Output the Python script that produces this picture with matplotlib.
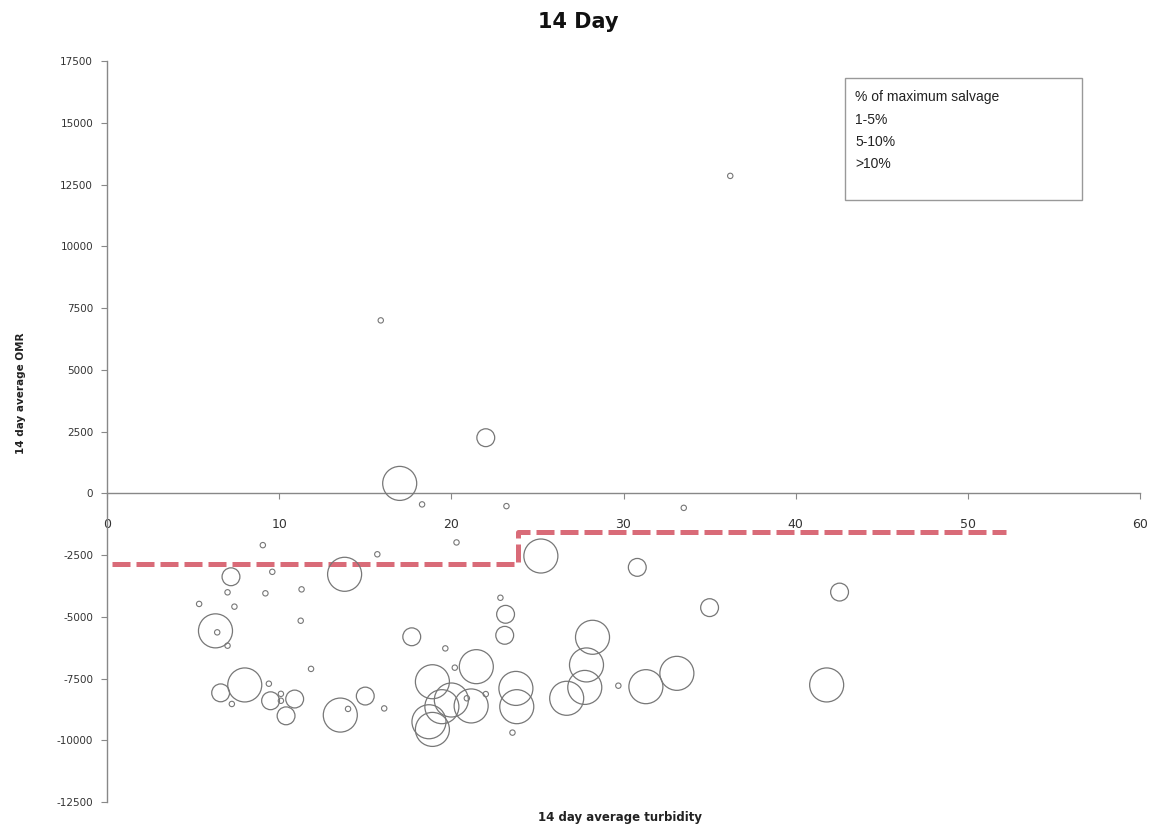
import numpy as np
from matplotlib import pyplot as plt
from matplotlib.patches import Rectangle

plt.rcParams['axes.unicode_minus'] = False

# bubbles by % of maximum salvage: x = 14 day average turbidity, y = 14 day average OMR
x_low = [9.05, 15.7, 9.6, 7.0, 9.2, 11.3, 5.35, 7.4, 11.25, 6.4, 7.0, 11.85, 9.4, 7.25,
         10.1, 10.1, 14.0, 16.1, 20.3, 22.85, 19.65, 20.2, 22.0, 20.9, 23.55, 29.7,
         15.9, 18.3, 23.2, 33.5, 36.2]
y_low = [-2100, -2470, -3180, -4010, -4050, -3890, -4480, -4590, -5160, -5630, -6170,
         -7110, -7710, -8530, -8120, -8400, -8730, -8710, -1990, -4230, -6280, -7060,
         -8130, -8300, -9690, -7790, 7000, -450, -520, -590, 12850]

x_mid = [7.2, 6.6, 9.5, 10.9, 10.4, 15.0, 30.8, 23.15, 23.1, 17.7, 35.0, 42.55, 22.0]
y_mid = [-3380, -8080, -8400, -8330, -9010, -8210, -3000, -4900, -5750, -5810, -4630,
         -4000, 2250]

x_high = [13.8, 6.3, 8.0, 13.55, 25.2, 28.2, 21.45, 27.85, 18.9, 23.75, 27.75, 31.3,
          33.1, 41.8, 20.0, 21.15, 19.45, 23.8, 26.7, 18.7, 18.9, 17.0]
y_high = [-3280, -5570, -7760, -8980, -2540, -5830, -7020, -6950, -7630, -7900, -7860,
          -7830, -7290, -7760, -8370, -8610, -8640, -8640, -8300, -9250, -9560, 400]

# threshold line
thr_x = [0.3, 23.85, 52.2]
thr_y = [-2850, -1550, -1550]

legend_title = "% of maximum salvage"
legend_labels = ["1-5%", "5-10%", ">10%"]

fig = plt.figure(figsize=(11.57, 8.27), dpi=100)
ax = fig.add_axes([0.0925, 0.0302, 0.8928, 0.896])

edge = '#777777'
ax.scatter(x_low, y_low, s=15, facecolors='none', edgecolors=edge, linewidths=0.8, zorder=3)
ax.scatter(x_mid, y_mid, s=165, facecolors='none', edgecolors=edge, linewidths=0.9, zorder=3)
ax.scatter(x_high, y_high, s=600, facecolors='none', edgecolors=edge, linewidths=0.9, zorder=3)

ax.plot(thr_x, thr_y, drawstyle='steps-post', color='#d96b78', lw=3.6,
        dashes=(3.6, 1.2), zorder=2)

ax.set_xlim(0, 60)
ax.set_ylim(-12500, 17500)
ax.set_xticks(np.arange(0, 61, 10))
ax.set_yticks(np.arange(-12500, 17501, 2500))

ax.spines['top'].set_visible(False)
ax.spines['right'].set_visible(False)
ax.spines['bottom'].set_position(('data', 0))
for sp in ['left', 'bottom']:
    ax.spines[sp].set_color('#888888')
    ax.spines[sp].set_linewidth(1.0)

ax.tick_params(axis='y', direction='out', length=4, color='#888888', labelsize=7.5,
               labelcolor='#333333', pad=6)
ax.tick_params(axis='x', direction='out', length=4, color='#888888', labelsize=9,
               labelcolor='#333333', pad=14)

fig.text(0.5, 0.973, "14 Day", ha='center', va='center', fontsize=15, fontweight='bold',
         color='#111111')
fig.text(0.536, 0.012, "14 day average turbidity", ha='center', va='center', fontsize=8.5,
         fontweight='bold', color='#222222')
fig.text(0.018, 0.525, "14 day average OMR", ha='center', va='center', rotation=90,
         fontsize=7.5, fontweight='bold', color='#222222')

# legend box (markers not shown in the original)
fig.patches.append(Rectangle((845 / 1157, 1 - 200 / 827), 237 / 1157, 122 / 827,
                             transform=fig.transFigure, facecolor='white',
                             edgecolor='#999999', lw=1.0, zorder=5))
lines = [legend_title] + legend_labels
for i, s in enumerate(lines):
    fig.text(855 / 1157, 1 - (97 + i * 22.5) / 827, s, ha='left', va='center',
             fontsize=10, family=['Liberation Sans', 'DejaVu Sans'], color='#222222', zorder=6)

fig.savefig('out.png', dpi=100)
